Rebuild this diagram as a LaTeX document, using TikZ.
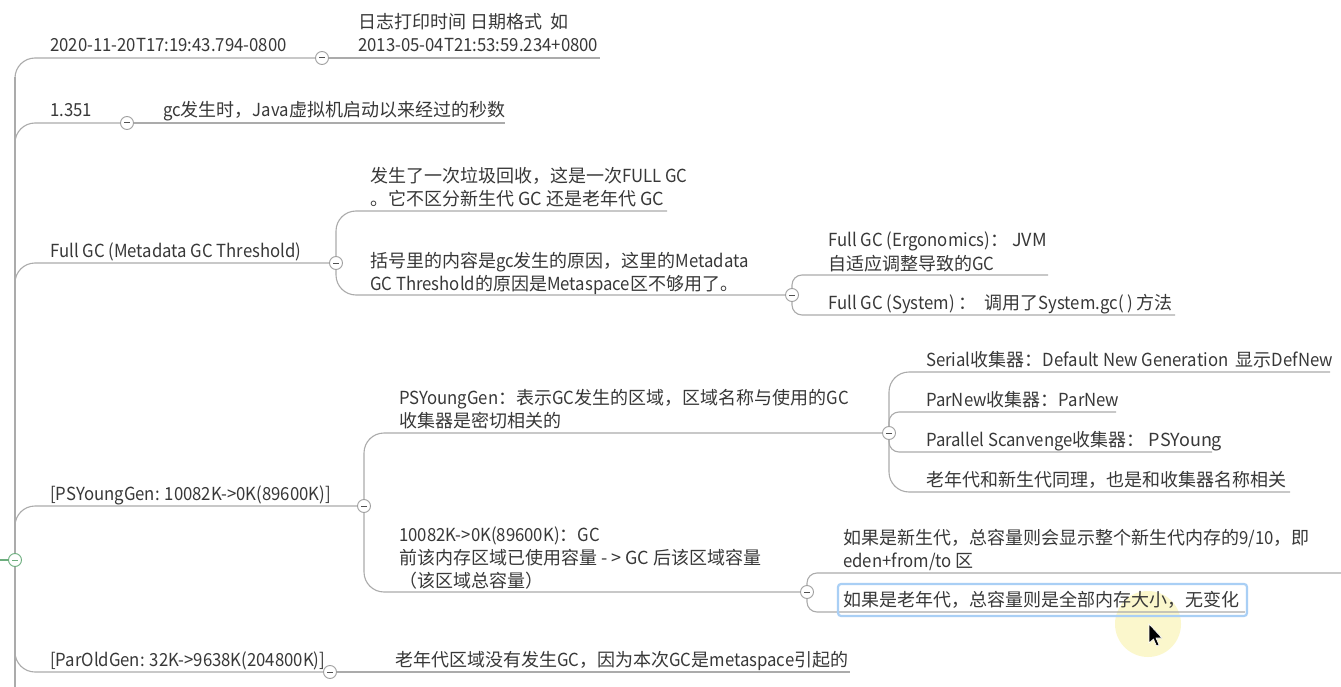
\documentclass[tikz,border=0pt]{standalone}
\usepackage{fontspec}
\setmainfont{Noto Sans CJK SC}[FakeStretch=0.93]
\newfontfamily\cjkfont{Noto Sans CJK SC}
\newfontfamily\latinfont{Noto Sans CJK SC}[FakeStretch=0.93]
\newXeTeXintercharclass\mycjkcls
\makeatletter
\def\my@setrange#1#2{\count@=#1\relax
  \loop\XeTeXcharclass\count@=\mycjkcls\advance\count@ by 1\relax
  \ifnum\count@<#2\repeat}
\my@setrange{"3000}{"3040}
\my@setrange{"4E00}{"A000}
\my@setrange{"FF00}{"FFF0}
\makeatother
\XeTeXinterchartoks 0 \mycjkcls = {\cjkfont}
\XeTeXinterchartoks 4095 \mycjkcls = {\cjkfont}
\XeTeXinterchartoks \mycjkcls 0 = {\latinfont}
\XeTeXinterchartokenstate=1
\definecolor{linegray}{HTML}{ABABAB}
\definecolor{circgray}{HTML}{A0A0A0}
\definecolor{minusgray}{HTML}{505050}
\definecolor{textgray}{HTML}{383838}
\definecolor{rootgreen}{HTML}{6DAE7E}
\definecolor{selblue}{HTML}{A9CFF5}
\definecolor{halo}{HTML}{FBF6C4}
\begin{document}
\begin{tikzpicture}[x=1pt,y=-1pt,
  conn/.style={draw=linegray, line width=1.1pt, rounded corners=20pt},
  sconn/.style={conn, rounded corners=10pt},
  tog/.style={circle, draw=circgray, fill=white, line width=0.9pt, minimum size=13pt, inner sep=0pt,
    path picture={\draw[line width=1pt,color=minusgray] ([xshift=-3pt]path picture bounding box.center) -- ([xshift=3pt]path picture bounding box.center);}},
  txt/.style={anchor=base west, inner sep=0pt, text=textgray, font=\latinfont\fontsize{18}{23}\selectfont},
]
\useasboundingbox (0,0) rectangle (1341,687);
\fill[white] (0,0) rectangle (1341,687);

% cursor halo (background)
\fill[halo, opacity=0.85] (1148,624) circle (33);

% trunk
\coordinate (top) at (15,77);
\coordinate (bot) at (15,687);
\draw[conn] (top) -- (bot);
\coordinate (rootl) at (0,560);

% ---------- collapse circles ----------
\node[tog] (c1) at (322,58) {};
\node[tog] (c2) at (127,123) {};
\node[tog] (c3) at (336,263) {};
\node[tog] (c3b) at (792,295) {};
\node[tog] (c4) at (364,506) {};
\node[tog] (c4a) at (889,433) {};
\node[tog] (c4b) at (807,592) {};
\node[tog] (c5) at (330,672) {};

% ---------- trunk to branches ----------
\coordinate (k1) at (15,100);
\coordinate (k2) at (15,150);
\coordinate (k3) at (15,300);
\coordinate (k4) at (15,540);
\coordinate (k5) at (15,640);
\draw[conn] (k1) |- (c1.west);
\draw[conn] (k2) |- (c2.west);
\draw[conn] (k3) |- (c3.west);
\draw[conn] (k4) |- (c4.west);
\draw[conn] (k5) |- (c5.west);

% ---------- end points of child lines ----------
\coordinate (e1) at (600,58);
\coordinate (e2) at (505,123);
\coordinate (e3a) at (667,211);
\coordinate (e3b1) at (1048,275);
\coordinate (e3b2) at (1175,315);
\coordinate (e4a1) at (1330,372);
\coordinate (e4a2) at (1116,412);
\coordinate (e4a3) at (1212,452);
\coordinate (e4a4) at (1290,492);
\coordinate (e4b1) at (1341,573);
\coordinate (e4b2) at (1245,612);
\coordinate (e5) at (850,672);

\draw[conn] (c1.east) -- (e1);
\draw[conn] (c2.east) -- (e2);
\draw[conn] (c3.north) |- (e3a);
\draw[conn] (c3.south) |- (c3b.west);
\draw[sconn] (c3b.north) |- (e3b1);
\draw[sconn] (c3b.south) |- (e3b2);
\draw[conn] (c4.north) |- (c4a.west);
\draw[conn] (c4.south) |- (c4b.west);
\draw[conn] (c4a.north) |- (e4a1);
\draw[sconn] (c4a.north) |- (e4a2);
\draw[sconn] (c4a.south) |- (e4a3);
\draw[conn] (c4a.south) |- (e4a4);
\draw[sconn] (c4b.north) |- (e4b1);
\draw[sconn] (c4b.south) |- (e4b2);
\draw[conn] (c5.east) -- (e5);

% ---------- texts ----------
\node[txt] (b1) at (50,52) {2020-11-20T17:19:43.794-0800};
\node[txt] (b1a) at (358,29) {日志打印时间 日期格式 \ 如};
\node[txt] (b1b) at (358,52) {2013-05-04T21:53:59.234+0800};

\node[txt] (b2) at (50,117) {1.351};
\node[txt] (b2a) at (163,117) {gc发生时，Java虚拟机启动以来经过的秒数};

\node[txt] (b3) at (50,257) {Full GC (Metadata GC Threshold)};
\node[txt] (b3a1) at (370,183) {发生了一次垃圾回收，这是一次FULL GC};
\node[txt] (b3a2) at (370,206) {。它不区分新生代 GC 还是老年代 GC};
\node[txt] (b3b1) at (370,267) {括号里的内容是gc发生的原因，这里的Metadata};
\node[txt] (b3b2) at (370,290) {GC Threshold的原因是Metaspace区不够用了。};
\node[txt] (b3c1) at (828,247) {Full GC (Ergonomics)： JVM};
\node[txt] (b3c2) at (828,270) {自适应调整导致的GC};
\node[txt] (b3d) at (828,309) {Full GC (System) ：\ \ 调用了System.gc( ) 方法};

\node[txt] (b4) at (50,500) {[PSYoungGen: 10082K->0K(89600K)]};
\node[txt] (b4a1) at (399,404) {PSYoungGen：表示GC发生的区域，区域名称与使用的GC};
\node[txt] (b4a2) at (399,427) {收集器是密切相关的};
\node[txt] (b4b1) at (399,541) {10082K->0K(89600K)：GC};
\node[txt] (b4b2) at (399,564) {前该内存区域已使用容量 - > GC 后该区域容量};
\node[txt] (b4b3) at (399,587) {（该区域总容量）};
\node[txt] (s1) at (926,366) {Serial收集器：Default New Generation \ 显示DefNew};
\node[txt] (s2) at (926,406) {ParNew收集器：ParNew};
\node[txt] (s3) at (926,446) {Parallel Scanvenge收集器： PSYoung};
\node[txt] (s4) at (926,486) {老年代和新生代同理，也是和收集器名称相关};
\node[txt] (t1a) at (843,544) {如果是新生代，总容量则会显示整个新生代内存的9/10，即};
\node[txt] (t1b) at (843,567) {eden+from/to 区};
\node[txt] (t2) at (843,606) {如果是老年代，总容量则是全部内存大小，无变化};
\draw[selblue, line width=2.2pt, rounded corners=3pt] (838,584) rectangle (1247,616);

\node[txt] (b5) at (50,666) {[ParOldGen: 32K->9638K(204800K)]};
\node[txt] (b5a) at (395,666) {老年代区域没有发生GC，因为本次GC是metaspace引起的};

% ---------- root ----------
\node[tog, draw=rootgreen, path picture={\draw[line width=1pt,color=rootgreen] ([xshift=-3pt]path picture bounding box.center) -- ([xshift=3pt]path picture bounding box.center);}] (root) at (15,560) {};
\draw[rootgreen, line width=1.1pt] (rootl) -- (root.west);

% ---------- mouse pointer ----------
\filldraw[fill=black, draw=white, line width=0.6pt, shift={(1149,624)}]
  (0,0) -- (0,19) -- (4.5,15) -- (7.5,22) -- (10,21) -- (7,14) -- (13,14) -- cycle;
\end{tikzpicture}
\end{document}
